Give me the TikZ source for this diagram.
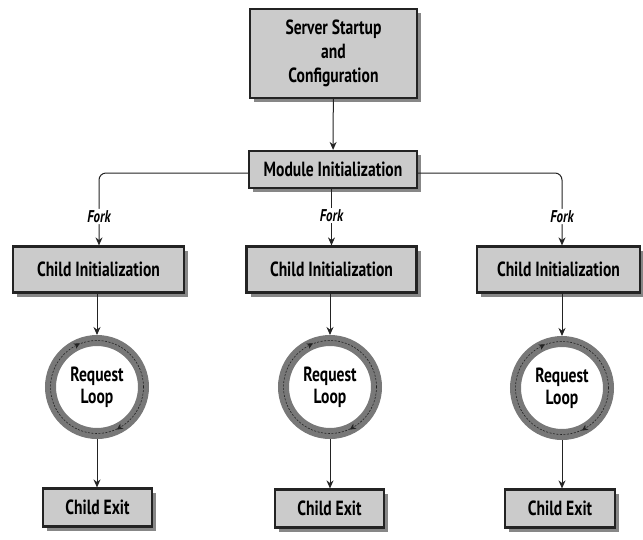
\documentclass[tikz,border=0pt]{standalone}
\usepackage{fontspec}
\setmainfont{PT Sans}[FakeStretch=0.76]
\usetikzlibrary{shadows,arrows.meta,decorations.markings}
\definecolor{boxfill}{RGB}{203,203,203}
\definecolor{shade}{RGB}{135,135,135}
\definecolor{ringgray}{RGB}{120,120,120}
\definecolor{ink}{RGB}{35,35,35}
\tikzset{
  procbox/.style={draw=ink, line width=2.2pt, fill=boxfill, align=center,
    font=\bfseries\fontsize{20.5}{24}\selectfont, inner sep=0pt,
    drop shadow={shadow xshift=4pt, shadow yshift=-4pt, fill=shade, opacity=1}},
  loopring/.style={circle, draw=ringgray, line width=11pt, minimum size=93pt,
    align=center, font=\bfseries\fontsize{20.5}{22}\selectfont, inner sep=0pt},
  flow/.style={draw=ink, line width=1pt, -{Stealth[length=8pt,width=7pt]}},
  forklabel/.style={fill=white, inner sep=1.5pt, font=\bfseries\itshape\fontsize{17}{18}\selectfont},
  ringmarks/.style={draw=ink, line width=0.6pt, dash pattern=on 2pt off 1.5pt,
    postaction={decorate, decoration={markings,
      mark=at position 0.33 with {\arrow[solid]{Stealth[length=6pt,width=6pt,reversed]}},
      mark=at position 0.84 with {\arrow[solid]{Stealth[length=6pt,width=6pt,reversed]}}}}}
}
\begin{document}
\begin{tikzpicture}[x=1pt, y=-1pt]
\useasboundingbox (0,0) rectangle (643,539);

% startup and module initialisation
\node[procbox, minimum width=167pt, minimum height=89pt] (srv) at (333.5,53.5)
  {Server Startup\\and\\Configuration};
\node[procbox, minimum width=168pt, minimum height=37pt] (mod) at (333,169.5)
  {Module Initialization};

% child initialisation boxes
\node[procbox, minimum width=171pt, minimum height=46pt] (ci1) at (98.5,269.5) {Child Initialization};
\node[procbox, minimum width=170pt, minimum height=46pt] (ci2) at (331.5,269.5) {Child Initialization};
\node[procbox, minimum width=163pt, minimum height=46pt] (ci3) at (558.5,269.5) {Child Initialization};

% request loops
\node[loopring] (rl1) at (97,387) {Request\\Loop};
\node[loopring] (rl2) at (330,387) {Request\\Loop};
\node[loopring] (rl3) at (562,388) {Request\\Loop};
\foreach \r in {rl1,rl2,rl3}
  \path[ringmarks] (\r.center) circle (46.5pt);

% child exit boxes
\node[procbox, minimum width=109pt, minimum height=38pt] (ce1) at (97.5,507.5) {Child Exit};
\node[procbox, minimum width=109pt, minimum height=38pt] (ce2) at (329.5,508.5) {Child Exit};
\node[procbox, minimum width=110pt, minimum height=38pt] (ce3) at (560,508.5) {Child Exit};

% fork points
\coordinate (k1) at (99,173);
\coordinate (k3) at (562,173);

% connectors
\draw[flow] (srv) -- (mod);
\draw[flow, rounded corners=7pt] (mod.west |- k1) -- (k1) -- (k1 |- ci1.north)
  node[forklabel, pos=0.6] {Fork};
\draw[flow] (mod.south -| ci2) -- (ci2) node[forklabel, pos=0.47] {Fork};
\draw[flow, rounded corners=7pt] (mod.east |- k3) -- (k3) -- (k3 |- ci3.north)
  node[forklabel, pos=0.6] {Fork};
\draw[flow] (ci1.south -| rl1) -- (rl1.north);
\draw[flow] (ci2.south -| rl2) -- (rl2.north);
\draw[flow] (ci3.south -| rl3) -- (rl3.north);
\draw[flow] (rl1.south) -- (rl1.south |- ce1.north);
\draw[flow] (rl2.south) -- (rl2.south |- ce2.north);
\draw[flow] (rl3.south) -- (rl3.south |- ce3.north);
\end{tikzpicture}
\end{document}
